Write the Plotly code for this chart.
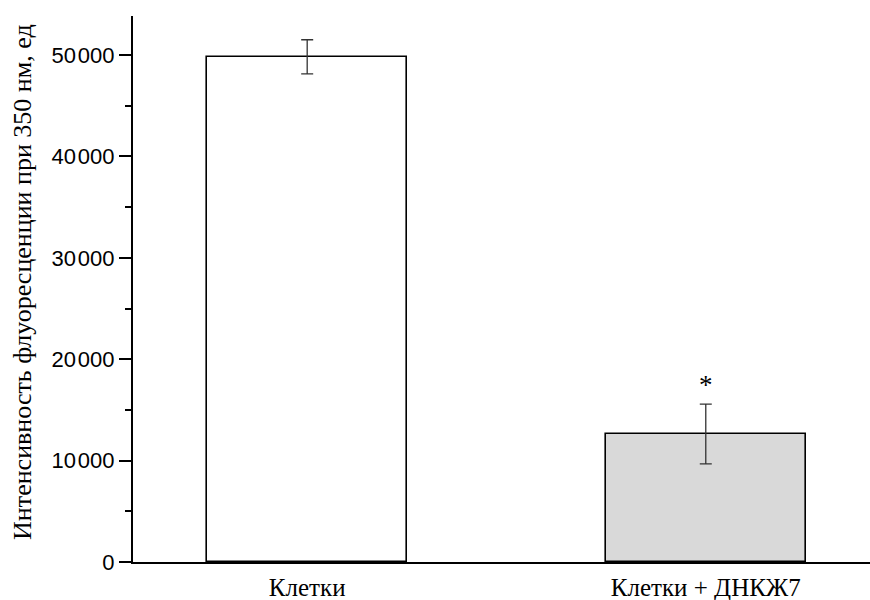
import plotly.graph_objects as go

# Fluorescence intensity at 350 nm for two sample groups
categories = ["Клетки", "Клетки + ДНКЖ7"]
means = [49830, 12620]
errors = [1680, 2950]
bar_fills = ["#ffffff", "#d9d9d9"]
y_tick_values = [0, 10000, 20000, 30000, 40000, 50000]
y_tick_labels = ["0", "10\u200a000", "20\u200a000", "30\u200a000", "40\u200a000", "50\u200a000"]
y_title = "Интенсивность флуоресценции при 350 нм, ед"

x_pos = list(range(len(categories)))
serif = "Liberation Serif, Times New Roman, serif"
sans = "Liberation Sans, Arial, sans-serif"

fig = go.Figure()
fig.add_trace(go.Bar(
    x=x_pos,
    y=means,
    width=0.502,
    marker=dict(color=bar_fills, line=dict(color="black", width=1.6)),
    error_y=dict(type="data", array=errors, visible=True,
                 color="#333333", thickness=1.3, width=6),
    showlegend=False,
))

# significance marker above the treated group
fig.add_annotation(x=x_pos[1], y=means[1] + errors[1], text="*",
                   showarrow=False, yanchor="bottom", yshift=2,
                   font=dict(family=serif, size=27, color="black"))

# vertical axis title, placed explicitly left of the tick labels
fig.add_annotation(xref="paper", yref="paper", x=0, y=0.513,
                   xanchor="center", yanchor="middle", xshift=-110,
                   text=y_title, textangle=-90, showarrow=False,
                   font=dict(family=serif, size=26, color="black"))

fig.update_layout(
    width=870, height=600,
    margin=dict(l=133, r=0, t=16, b=38),
    paper_bgcolor="white", plot_bgcolor="white",
    bargap=0,
)
fig.update_xaxes(
    range=[-0.437, 1.412],
    tickvals=x_pos, ticktext=categories,
    showline=True, linecolor="black", linewidth=2.2,
    ticks="", showgrid=False, zeroline=False,
    tickfont=dict(family=serif, size=25, color="black"),
    ticklabelstandoff=2,
)
fig.update_yaxes(
    range=[0, 53850],
    tickvals=y_tick_values, ticktext=y_tick_labels,
    showline=True, linecolor="black", linewidth=2.2,
    ticks="outside", ticklen=12, tickwidth=1.5, tickcolor="black",
    minor=dict(ticks="outside", ticklen=6, tickwidth=1.5, tickcolor="black", dtick=5000),
    showgrid=False, zeroline=False,
    tickfont=dict(family=sans, size=22, color="black"),
    ticklabelstandoff=0,
)

fig.write_html("out.html")
